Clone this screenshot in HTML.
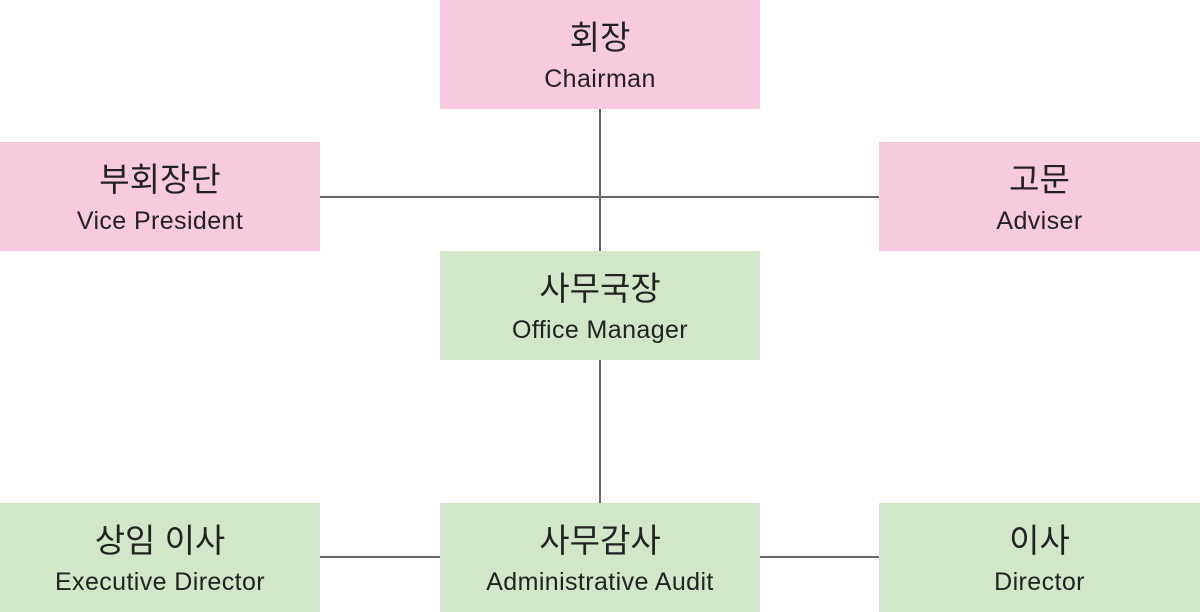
<!DOCTYPE html>
<html><head><meta charset="utf-8"><style>
body{margin:0;width:1200px;height:612px;background:#fff;position:relative;overflow:hidden;font-family:"Liberation Sans","Noto Sans CJK KR",sans-serif;color:#222}
.b{position:absolute;width:320px;height:109px;text-align:center}
.p{background:#f8cadf}.g{background:#d2e6ca}
.k{position:absolute;left:0;right:0;top:18px;font-size:33px;line-height:40px}
.e{position:absolute;left:0;right:0;top:64px;font-size:25px;line-height:30px;letter-spacing:0.4px}
.l{position:absolute;background:#666}
</style></head><body>
<div class="l" style="left:599px;top:109px;width:1.5px;height:142px"></div>
<div class="l" style="left:320px;top:196px;width:560px;height:1.5px"></div>
<div class="l" style="left:599px;top:360px;width:1.5px;height:143px"></div>
<div class="l" style="left:320px;top:556px;width:560px;height:1.5px"></div>
<div class="b p" style="left:440px;top:0"><div class="k">회장</div><div class="e">Chairman</div></div>
<div class="b p" style="left:0;top:142px"><div class="k">부회장단</div><div class="e">Vice President</div></div>
<div class="b p" style="left:879px;top:142px;width:321px"><div class="k">고문</div><div class="e">Adviser</div></div>
<div class="b g" style="left:440px;top:251px"><div class="k">사무국장</div><div class="e">Office Manager</div></div>
<div class="b g" style="left:0;top:503px"><div class="k">상임 이사</div><div class="e">Executive Director</div></div>
<div class="b g" style="left:440px;top:503px"><div class="k">사무감사</div><div class="e">Administrative Audit</div></div>
<div class="b g" style="left:879px;top:503px;width:321px"><div class="k">이사</div><div class="e">Director</div></div>
</body></html>
